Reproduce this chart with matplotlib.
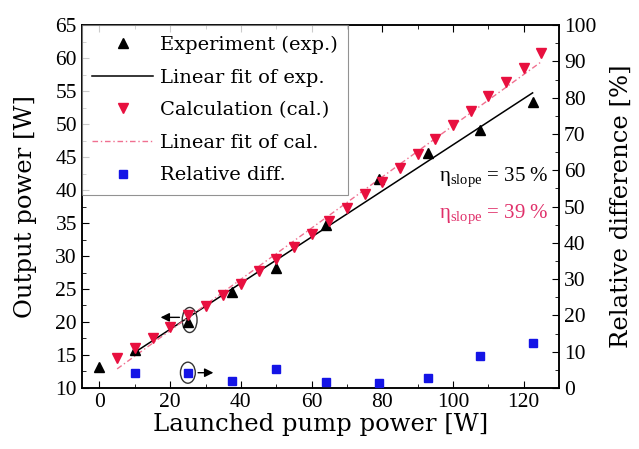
# Output power vs. launched pump power, with relative difference on a second axis
import numpy as np
import matplotlib
matplotlib.use('Agg')
import matplotlib.pyplot as plt
from matplotlib.patches import Ellipse
from matplotlib.ticker import MultipleLocator

# measured output power
exp_pump = [0, 10, 25, 37.5, 50, 64, 79, 93, 107.5, 122.5]
exp_power = [13.2, 15.8, 20.0, 24.5, 28.2, 34.7, 41.7, 45.6, 49.1, 53.3]

# calculated output power
cal_pump = [5, 10, 15, 20, 25, 30, 35, 40, 45, 50, 55, 60, 65,
            70, 75, 80, 85, 90, 95, 100, 105, 110, 115, 120, 125]
cal_power = [14.5, 16.1, 17.6, 19.2, 21.0, 22.4, 24.1, 25.8, 27.8, 29.5,
             31.4, 33.4, 35.3, 37.3, 39.4, 41.2, 43.4, 45.5, 47.8, 49.8,
             52.0, 54.2, 56.4, 58.5, 60.8]

# relative difference between measurement and calculation [%]
diff_pump = [10, 25, 37.5, 50, 64, 79, 93, 107.5, 122.5]
diff_pct = [4.0, 4.2, 2.0, 5.3, 1.6, 1.4, 2.8, 8.8, 12.3]

TEXT_FONT = ['DejaVu Serif']
TICK_FONT = ['Liberation Serif', 'DejaVu Serif']
plt.rcParams['font.family'] = TICK_FONT
plt.rcParams['mathtext.fontset'] = 'custom'
plt.rcParams['mathtext.rm'] = 'Liberation Serif'

fig = plt.figure(figsize=(6.39, 4.49), dpi=100)
ax = fig.add_axes([0.128, 0.136, 0.747, 0.808])
ax2 = ax.twinx()

# linear fits (exp. fit leaves out the zero-pump point)
ex = np.array(exp_pump[1:])
p_exp = np.polyfit(ex, exp_power[1:], 1)
p_cal = np.polyfit(cal_pump, cal_power, 1)
xe = np.array([ex[0], ex[-1]])
xc = np.array([cal_pump[0], cal_pump[-1]])

h1, = ax.plot(exp_pump, exp_power, '^', color='black', ms=6.5,
              label='Experiment (exp.)', zorder=4)
h2, = ax.plot(xe, np.polyval(p_exp, xe), '-', color='black', lw=1.1,
              label='Linear fit of exp.', zorder=3)
h3, = ax.plot(cal_pump, cal_power, 'v', color='#e8103f', ms=7,
              label='Calculation (cal.)', zorder=4)
h4, = ax.plot(xc, np.polyval(p_cal, xc), color='#f07090', lw=1.0,
              ls=(0, (4, 2, 1, 2)), label='Linear fit of cal.', zorder=3)
h5, = ax2.plot(diff_pump, diff_pct, 's', color='#1414e6', ms=6,
               label='Relative diff.', zorder=4)

ax.set_xlim(-5, 130)
ax.set_ylim(10, 65)
ax2.set_ylim(0, 100)

ax.xaxis.set_major_locator(MultipleLocator(20))
ax.xaxis.set_minor_locator(MultipleLocator(10))
ax.yaxis.set_major_locator(MultipleLocator(5))
ax.yaxis.set_minor_locator(MultipleLocator(2.5))
ax2.yaxis.set_major_locator(MultipleLocator(10))
ax2.yaxis.set_minor_locator(MultipleLocator(5))

ax.tick_params(which='both', direction='in', top=True, labelsize=15.5)
ax.tick_params(which='major', length=5)
ax.tick_params(which='minor', length=3)
ax2.tick_params(which='both', direction='in', labelsize=15.5)
ax2.tick_params(which='major', length=5)
ax2.tick_params(which='minor', length=3)
for a in (ax, ax2):
    for s in a.spines.values():
        s.set_linewidth(1.1)

ax.set_xlabel('Launched pump power [W]', fontsize=17.5, labelpad=1,
              family=TEXT_FONT)
ax.set_ylabel('Output power [W]', fontsize=17.5, labelpad=13,
              family=TEXT_FONT)
ax2.set_ylabel('Relative difference [%]', fontsize=17.5, labelpad=10,
               family=TEXT_FONT)

# markers pointing each series to its axis
ax.add_patch(Ellipse((25.5, 20.3), 4.2, 3.8, fill=False, ec='#333333', lw=1))
ax.annotate('', xy=(16.5, 20.7), xytext=(23.4, 20.7),
            arrowprops=dict(arrowstyle='-|>', color='black', lw=1,
                            mutation_scale=13))
ax2.add_patch(Ellipse((25, 4.2), 4.2, 5.8, fill=False, ec='#333333', lw=1))
ax2.annotate('', xy=(33, 4.2), xytext=(27.1, 4.2),
             arrowprops=dict(arrowstyle='-|>', color='black', lw=1,
                             mutation_scale=13))

ax.text(111.5, 41.8, r'η$_{\mathrm{slope}}$ = 35 %', fontsize=15,
        color='black', ha='center', va='center')
ax.text(111.5, 36.2, r'η$_{\mathrm{slope}}$ = 39 %', fontsize=15,
        color='#e0306a', ha='center', va='center')

leg = ax2.legend(handles=[h1, h2, h3, h4, h5], loc='upper left',
                 prop={'family': TEXT_FONT, 'size': 14}, frameon=True,
                 fancybox=False, borderaxespad=0, handlelength=3.1,
                 labelspacing=0.75, borderpad=0.55, handletextpad=0.35)
leg.get_frame().set_edgecolor('#777777')
leg.get_frame().set_linewidth(0.8)

fig.savefig('out.png', dpi=100)
